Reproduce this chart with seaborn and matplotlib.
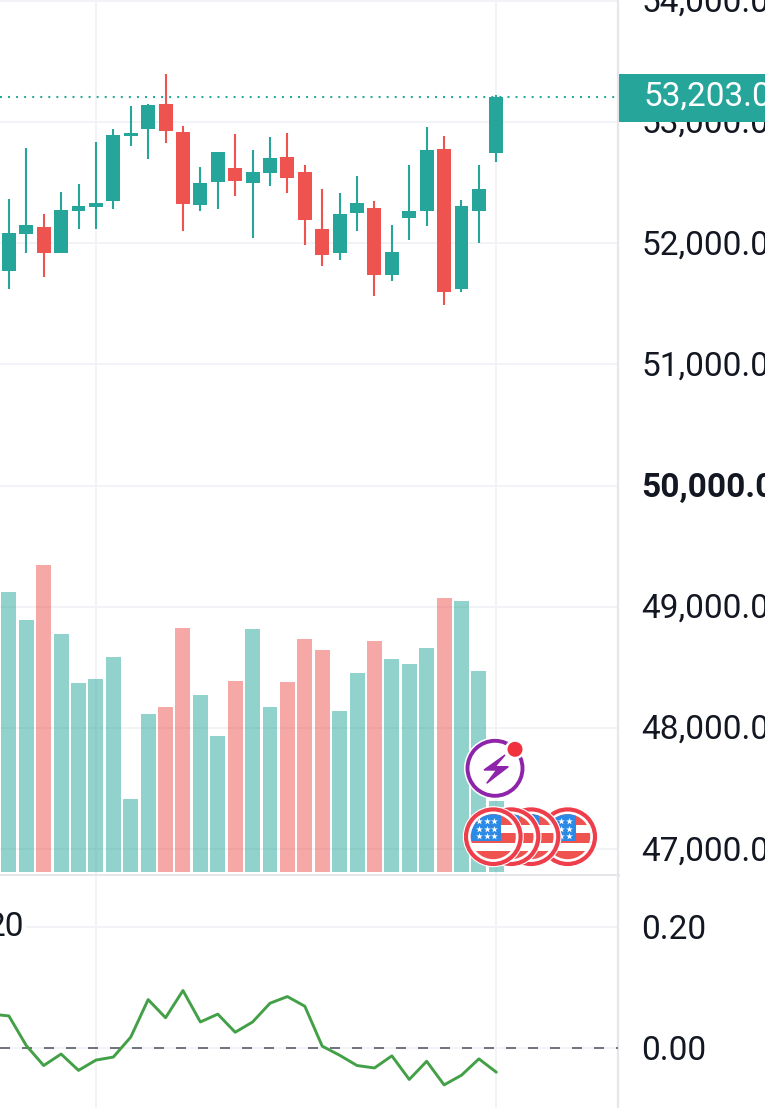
import numpy as np
import pandas as pd
import matplotlib
matplotlib.use('Agg')
import matplotlib.pyplot as plt
from matplotlib.patches import Circle, Polygon, Rectangle
from matplotlib.transforms import Affine2D, IdentityTransform, blended_transform_factory
import seaborn as sns

# candles
opens = [51774, 52074, 52137, 51917, 52269, 52302, 52346, 52888, 52945, 53152,
         52921, 52314, 52503, 52624, 52500, 52582, 52714, 52591, 52120, 51922,
         52252, 52294, 51741, 52211, 52269, 52780, 51623, 52269, 52747]
closes = [52087, 52153, 51917, 52275, 52310, 52335, 52896, 52907, 53143, 52924,
          52322, 52500, 52756, 52512, 52591, 52706, 52536, 52195, 51906, 52244,
          52335, 51741, 51931, 52269, 52772, 51601, 52310, 52450, 53203]
highs = [52368, 52786, 52242, 52423, 52489, 52838, 52945, 53135, 53149, 53397,
         52970, 52632, 52756, 52904, 52772, 52879, 52912, 52648, 52450, 52417,
         52555, 52351, 52153, 52648, 52962, 52888, 52360, 52648, 53226]
lows = [51625, 51920, 51722, 51917, 52115, 52115, 52285, 52805, 52698, 52830,
        52104, 52269, 52285, 52393, 52046, 52475, 52417, 51988, 51815, 51865,
        52104, 51568, 51691, 52030, 52145, 51493, 51601, 52005, 52673]
volumes = [2.80, 2.52, 3.07, 2.38, 1.89, 1.93, 2.15, 0.73, 1.58, 1.65,
           2.44, 1.77, 1.36, 1.91, 2.43, 1.65, 1.90, 2.33, 2.22, 1.61,
           1.99, 2.31, 2.13, 2.08, 2.24, 2.74, 2.71, 2.01, 0.71]
# lower pane starts one bar earlier, off the left edge
osc_values = [0.056, 0.053, 0.004, -0.029, -0.010, -0.037, -0.020, -0.015, 0.018, 0.080,
              0.050, 0.095, 0.043, 0.056, 0.026, 0.043, 0.074, 0.085, 0.069, 0.003,
              -0.012, -0.029, -0.033, -0.013, -0.052, -0.022, -0.061, -0.045, -0.018, -0.040]

price_ticks = [47000, 48000, 49000, 50000, 51000, 52000, 53000, 54000]
osc_ticks = [0.0, 0.2]
grid_bars = [5, 28]
last_price = 53203

UP = '#26a69a'
DOWN = '#ef5350'
GRID = '#f0f2f6'
SEP = '#e4e6ea'
TEXT = '#131722'

sns.set_style('white')
plt.rcParams['font.family'] = ['Roboto', 'DejaVu Sans']
plt.rcParams['lines.scale_dashes'] = False

W, H = 765, 1108
fig = plt.figure(figsize=(W / 100, H / 100), dpi=100, facecolor='white')
pane_w = 618 / W
ax = fig.add_axes([0, 1 - 874.5 / H, pane_w, 874.5 / H])
ax_osc = fig.add_axes([0, 0, pane_w, (H - 876) / H])

df = pd.DataFrame({'bar': np.arange(len(opens)), 'open': opens, 'close': closes,
                   'high': highs, 'low': lows, 'volume': volumes})
df['side'] = np.where(df['close'] >= df['open'], 'up', 'down')
colors = df['side'].map({'up': UP, 'down': DOWN})

xlim = (-0.51, 34.99)

# candles
ax.vlines(df['bar'], df['low'], df['high'], colors=colors, linewidth=1.5, zorder=3)
ax.bar(df['bar'], (df['close'] - df['open']).abs(), bottom=df[['open', 'close']].min(axis=1),
       width=0.8, color=colors, linewidth=0, zorder=4)
ax.axhline(last_price, color=UP, linewidth=1.5, linestyle=(0, (1.4, 4.4)), zorder=2)

ax.set_xlim(*xlim)
ax.set_ylim(46792, 54007)
ax.set_yticks(price_ticks)
ax.set_yticklabels([f'{p:,.1f}' for p in price_ticks])

# volume on its own hidden scale
ax_vol = ax.twinx()
sns.barplot(data=df, x='bar', y='volume', hue='side', palette={'up': UP, 'down': DOWN},
            native_scale=True, dodge=False, width=0.86, saturation=1, alpha=0.5,
            linewidth=0, legend=False, ax=ax_vol)
ax_vol.set_xlim(*xlim)
ax_vol.set_ylim(-0.025, 8.72)
ax_vol.set_yticks([])
ax_vol.set_xlabel('')
ax_vol.set_ylabel('')
for s in ax_vol.spines.values():
    s.set_visible(False)

# lower pane
sns.lineplot(x=np.arange(-1, len(opens)), y=osc_values, color='#43a047', linewidth=2.1,
             ax=ax_osc, zorder=4)
ax_osc.axhline(0, color='#6f727c', linewidth=1.4, linestyle=(0, (7.2, 8.64)), zorder=3)
ax_osc.set_xlim(*xlim)
ax_osc.set_ylim(-0.0992, 0.2843)
ax_osc.set_yticks(osc_ticks)
ax_osc.set_yticklabels([f'{v:.2f}' for v in osc_ticks])

for a in (ax, ax_osc):
    a.set_xticks(grid_bars)
    a.set_xticklabels([])
    a.grid(True, color=GRID, linewidth=1.3)
    a.set_axisbelow(True)
    a.yaxis.tick_right()
    a.tick_params(axis='y', length=0, pad=17, labelsize=24, labelcolor=TEXT)
    a.tick_params(axis='x', length=0)
    for name, s in a.spines.items():
        s.set_visible(name == 'right')
        s.set_color(SEP)
        s.set_linewidth(1.6)
# price labels sit a little higher than matplotlib's centre
for lab in ax.get_yticklabels():
    lab.set_transform(lab.get_transform() + Affine2D().translate(0, 1.5))
    if lab.get_text().startswith('50,000'):
        lab.set_fontweight('bold')
ax.spines['bottom'].set_visible(True)
ax.spines['bottom'].set_color(SEP)
ax.spines['bottom'].set_linewidth(2)

ax_osc.text(24, 0.2, '20', fontsize=24, color=TEXT, ha='right', va='center',
            transform=blended_transform_factory(IdentityTransform(), ax_osc.transData),
            bbox=dict(facecolor='white', edgecolor='none', pad=1.5), zorder=5)

# overlay in pixel units: price tag and event badges
ov = fig.add_axes([0, 0, 1, 1], zorder=10)
ov.set_xlim(0, W)
ov.set_ylim(H, 0)
ov.axis('off')
ov.patch.set_alpha(0)

ov.add_patch(Rectangle((619, 74), 146, 47.5, facecolor=UP, edgecolor='none'))
ov.text(643.5, 96.5, f'{last_price:,.1f}', color='white', fontsize=24, va='center', ha='left')


def flag(cx, cy, z):
    ov.add_patch(Circle((cx, cy), 30.5, facecolor='white', edgecolor='none', zorder=z))
    ov.add_patch(Circle((cx, cy), 27.3, facecolor='white', edgecolor='#ee3e4c', linewidth=3.0, zorder=z))
    disc = Circle((cx, cy), 22.5, transform=ov.transData)
    for top, bottom in [(-23, -12), (-4, 6), (14, 24)]:
        r = ov.add_patch(Rectangle((cx - 24, cy + top), 48, bottom - top, facecolor=DOWN,
                                   edgecolor='none', zorder=z))
        r.set_clip_path(disc)
    r = ov.add_patch(Rectangle((cx - 24, cy - 23), 32, 27, facecolor='#2a8ae6', edgecolor='none', zorder=z))
    r.set_clip_path(disc)
    sx = [cx + d for d in (-14, -6.7, 1)] * 3
    sy = [cy + d for d in (-15.7, -15.7, -15.7, -8, -8, -8, -0.7, -0.7, -0.7)]
    ov.scatter(sx, sy, s=26, marker='*', color='white', linewidth=0, zorder=z)


for i, cx in enumerate((567.7, 531, 511, 493.3)):
    flag(cx, 836.7, 20 + i)

# lightning badge
ov.add_patch(Circle((495, 768.3), 31, facecolor='white', edgecolor='none', zorder=30))
ov.add_patch(Circle((495, 768.3), 27.5, facecolor='white', edgecolor='#8e24aa', linewidth=2.8, zorder=30))
ov.add_patch(Polygon([(505, 755), (484, 770), (496.7, 770), (486.7, 783.3), (508.3, 766.7), (495, 766.7)],
                     closed=True, facecolor='#8e24aa', edgecolor='#8e24aa', linewidth=1, zorder=30))
ov.add_patch(Circle((515, 749.3), 10, facecolor='white', edgecolor='none', zorder=30))
ov.add_patch(Circle((515, 749.3), 7.5, facecolor='#f0323f', edgecolor='none', zorder=30))

plt.savefig('out.png', dpi=100)
